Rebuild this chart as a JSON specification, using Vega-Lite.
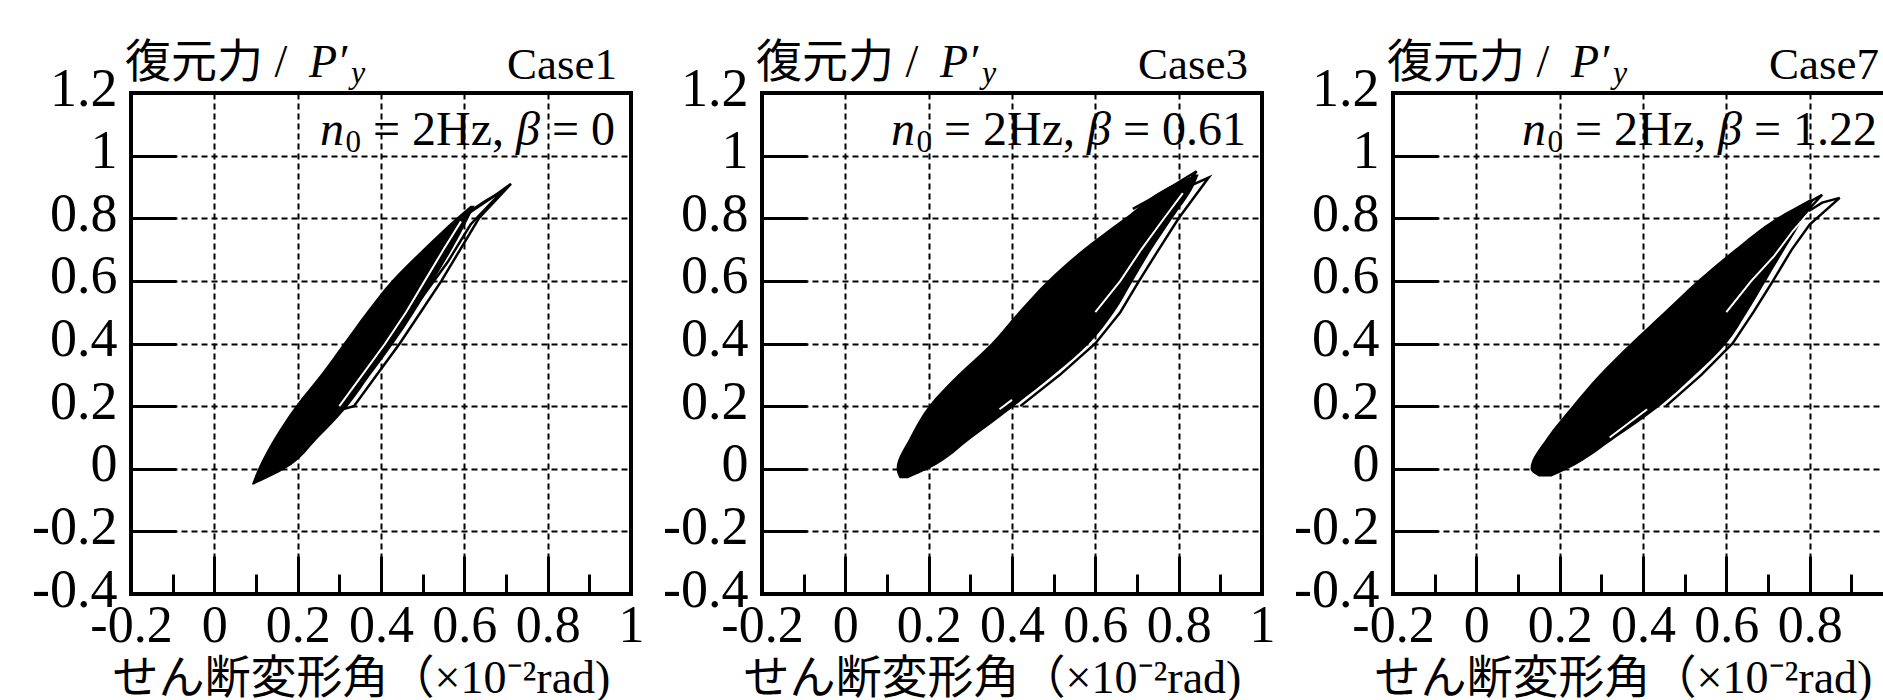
{
  "$schema": "https://vega.github.io/schema/vega-lite/v6.json",
  "background": "white",
  "autosize": {"type": "pad"},
  "padding": {"left": 29, "top": 38, "right": 0, "bottom": 0},
  "data": {"values": [
    {"kind": "label", "case": "Case1", "cond": "= 0"},
    {"kind": "label", "case": "Case3", "cond": "= 0.61"},
    {"kind": "label", "case": "Case7", "cond": "= 1.22"},

    {"kind": "fill", "case": "Case1", "y": -0.05, "xl": 0.09, "xr": 0.095},
    {"kind": "fill", "case": "Case1", "y": 0.0, "xl": 0.105, "xr": 0.17},
    {"kind": "fill", "case": "Case1", "y": 0.1, "xl": 0.145, "xr": 0.25},
    {"kind": "fill", "case": "Case1", "y": 0.2, "xl": 0.195, "xr": 0.32},
    {"kind": "fill", "case": "Case1", "y": 0.3, "xl": 0.255, "xr": 0.375},
    {"kind": "fill", "case": "Case1", "y": 0.4, "xl": 0.31, "xr": 0.43},
    {"kind": "fill", "case": "Case1", "y": 0.5, "xl": 0.365, "xr": 0.48},
    {"kind": "fill", "case": "Case1", "y": 0.6, "xl": 0.425, "xr": 0.525},
    {"kind": "fill", "case": "Case1", "y": 0.7, "xl": 0.5, "xr": 0.57},
    {"kind": "fill", "case": "Case1", "y": 0.8, "xl": 0.58, "xr": 0.61},
    {"kind": "fill", "case": "Case1", "y": 0.84, "xl": 0.615, "xr": 0.625},

    {"kind": "fill", "case": "Case3", "y": -0.03, "xl": 0.13, "xr": 0.15},
    {"kind": "fill", "case": "Case3", "y": 0.0, "xl": 0.123, "xr": 0.2},
    {"kind": "fill", "case": "Case3", "y": 0.1, "xl": 0.155, "xr": 0.305},
    {"kind": "fill", "case": "Case3", "y": 0.2, "xl": 0.2, "xr": 0.405},
    {"kind": "fill", "case": "Case3", "y": 0.3, "xl": 0.27, "xr": 0.5},
    {"kind": "fill", "case": "Case3", "y": 0.4, "xl": 0.35, "xr": 0.585},
    {"kind": "fill", "case": "Case3", "y": 0.5, "xl": 0.415, "xr": 0.645},
    {"kind": "fill", "case": "Case3", "y": 0.6, "xl": 0.485, "xr": 0.69},
    {"kind": "fill", "case": "Case3", "y": 0.7, "xl": 0.57, "xr": 0.735},
    {"kind": "fill", "case": "Case3", "y": 0.8, "xl": 0.67, "xr": 0.785},
    {"kind": "fill", "case": "Case3", "y": 0.9, "xl": 0.775, "xr": 0.835},
    {"kind": "fill", "case": "Case3", "y": 0.94, "xl": 0.84, "xr": 0.848},

    {"kind": "fill", "case": "Case7", "y": -0.025, "xl": 0.15, "xr": 0.18},
    {"kind": "fill", "case": "Case7", "y": 0.0, "xl": 0.13, "xr": 0.22},
    {"kind": "fill", "case": "Case7", "y": 0.1, "xl": 0.17, "xr": 0.335},
    {"kind": "fill", "case": "Case7", "y": 0.2, "xl": 0.23, "xr": 0.44},
    {"kind": "fill", "case": "Case7", "y": 0.3, "xl": 0.295, "xr": 0.525},
    {"kind": "fill", "case": "Case7", "y": 0.4, "xl": 0.37, "xr": 0.6},
    {"kind": "fill", "case": "Case7", "y": 0.5, "xl": 0.45, "xr": 0.65},
    {"kind": "fill", "case": "Case7", "y": 0.6, "xl": 0.53, "xr": 0.695},
    {"kind": "fill", "case": "Case7", "y": 0.7, "xl": 0.62, "xr": 0.74},
    {"kind": "fill", "case": "Case7", "y": 0.8, "xl": 0.72, "xr": 0.785},
    {"kind": "fill", "case": "Case7", "y": 0.86, "xl": 0.8, "xr": 0.81},

    {"kind": "loop", "case": "Case1", "path": "a", "i": 0, "x": 0.2, "y": 0.15},
    {"kind": "loop", "case": "Case1", "path": "a", "i": 1, "x": 0.335, "y": 0.2},
    {"kind": "loop", "case": "Case1", "path": "a", "i": 2, "x": 0.39, "y": 0.3},
    {"kind": "loop", "case": "Case1", "path": "a", "i": 3, "x": 0.445, "y": 0.4},
    {"kind": "loop", "case": "Case1", "path": "a", "i": 4, "x": 0.495, "y": 0.5},
    {"kind": "loop", "case": "Case1", "path": "a", "i": 5, "x": 0.545, "y": 0.6},
    {"kind": "loop", "case": "Case1", "path": "a", "i": 6, "x": 0.59, "y": 0.7},
    {"kind": "loop", "case": "Case1", "path": "a", "i": 7, "x": 0.635, "y": 0.8},
    {"kind": "loop", "case": "Case1", "path": "a", "i": 8, "x": 0.712, "y": 0.91},
    {"kind": "loop", "case": "Case1", "path": "a", "i": 9, "x": 0.665, "y": 0.865},
    {"kind": "loop", "case": "Case1", "path": "a", "i": 10, "x": 0.615, "y": 0.82},
    {"kind": "loop", "case": "Case1", "path": "a", "i": 11, "x": 0.56, "y": 0.76},
    {"kind": "loop", "case": "Case1", "path": "a", "i": 12, "x": 0.5, "y": 0.68},
    {"kind": "loop", "case": "Case1", "path": "b", "i": 0, "x": 0.35, "y": 0.35},
    {"kind": "loop", "case": "Case1", "path": "b", "i": 1, "x": 0.44, "y": 0.45},
    {"kind": "loop", "case": "Case1", "path": "b", "i": 2, "x": 0.5, "y": 0.55},
    {"kind": "loop", "case": "Case1", "path": "b", "i": 3, "x": 0.56, "y": 0.66},
    {"kind": "loop", "case": "Case1", "path": "b", "i": 4, "x": 0.615, "y": 0.78},
    {"kind": "loop", "case": "Case1", "path": "b", "i": 5, "x": 0.69, "y": 0.885},
    {"kind": "loop", "case": "Case1", "path": "b", "i": 6, "x": 0.65, "y": 0.855},
    {"kind": "loop", "case": "Case1", "path": "b", "i": 7, "x": 0.6, "y": 0.81},
    {"kind": "loop", "case": "Case1", "path": "b", "i": 8, "x": 0.55, "y": 0.74},
    {"kind": "white", "case": "Case1", "path": "w", "i": 0, "x": 0.3, "y": 0.2},
    {"kind": "white", "case": "Case1", "path": "w", "i": 1, "x": 0.355, "y": 0.3},
    {"kind": "white", "case": "Case1", "path": "w", "i": 2, "x": 0.41, "y": 0.4},
    {"kind": "white", "case": "Case1", "path": "w", "i": 3, "x": 0.46, "y": 0.5},
    {"kind": "white", "case": "Case1", "path": "w", "i": 4, "x": 0.505, "y": 0.6},
    {"kind": "white", "case": "Case1", "path": "w", "i": 5, "x": 0.55, "y": 0.7},
    {"kind": "white", "case": "Case1", "path": "w", "i": 6, "x": 0.592, "y": 0.79},

    {"kind": "loop", "case": "Case3", "path": "a", "i": 0, "x": 0.42, "y": 0.2},
    {"kind": "loop", "case": "Case3", "path": "a", "i": 1, "x": 0.515, "y": 0.3},
    {"kind": "loop", "case": "Case3", "path": "a", "i": 2, "x": 0.6, "y": 0.4},
    {"kind": "loop", "case": "Case3", "path": "a", "i": 3, "x": 0.66, "y": 0.5},
    {"kind": "loop", "case": "Case3", "path": "a", "i": 4, "x": 0.705, "y": 0.6},
    {"kind": "loop", "case": "Case3", "path": "a", "i": 5, "x": 0.752, "y": 0.7},
    {"kind": "loop", "case": "Case3", "path": "a", "i": 6, "x": 0.8, "y": 0.8},
    {"kind": "loop", "case": "Case3", "path": "a", "i": 7, "x": 0.872, "y": 0.93},
    {"kind": "loop", "case": "Case3", "path": "a", "i": 8, "x": 0.83, "y": 0.905},
    {"kind": "loop", "case": "Case3", "path": "a", "i": 9, "x": 0.77, "y": 0.86},
    {"kind": "loop", "case": "Case3", "path": "a", "i": 10, "x": 0.71, "y": 0.81},
    {"kind": "loop", "case": "Case3", "path": "a", "i": 11, "x": 0.66, "y": 0.76},
    {"kind": "loop", "case": "Case3", "path": "b", "i": 0, "x": 0.6, "y": 0.6},
    {"kind": "loop", "case": "Case3", "path": "b", "i": 1, "x": 0.66, "y": 0.68},
    {"kind": "loop", "case": "Case3", "path": "b", "i": 2, "x": 0.72, "y": 0.76},
    {"kind": "loop", "case": "Case3", "path": "b", "i": 3, "x": 0.78, "y": 0.84},
    {"kind": "loop", "case": "Case3", "path": "b", "i": 4, "x": 0.843, "y": 0.95},
    {"kind": "loop", "case": "Case3", "path": "b", "i": 5, "x": 0.8, "y": 0.915},
    {"kind": "loop", "case": "Case3", "path": "b", "i": 6, "x": 0.745, "y": 0.87},
    {"kind": "loop", "case": "Case3", "path": "b", "i": 7, "x": 0.69, "y": 0.83},
    {"kind": "white", "case": "Case3", "path": "w", "i": 0, "x": 0.6, "y": 0.5},
    {"kind": "white", "case": "Case3", "path": "w", "i": 1, "x": 0.66, "y": 0.6},
    {"kind": "white", "case": "Case3", "path": "w", "i": 2, "x": 0.71, "y": 0.7},
    {"kind": "white", "case": "Case3", "path": "w", "i": 3, "x": 0.765, "y": 0.8},
    {"kind": "white", "case": "Case3", "path": "w", "i": 4, "x": 0.81, "y": 0.88},
    {"kind": "white", "case": "Case3", "path": "v", "i": 0, "x": 0.37, "y": 0.19},
    {"kind": "white", "case": "Case3", "path": "v", "i": 1, "x": 0.4, "y": 0.22},

    {"kind": "loop", "case": "Case7", "path": "a", "i": 0, "x": 0.455, "y": 0.2},
    {"kind": "loop", "case": "Case7", "path": "a", "i": 1, "x": 0.54, "y": 0.3},
    {"kind": "loop", "case": "Case7", "path": "a", "i": 2, "x": 0.615, "y": 0.4},
    {"kind": "loop", "case": "Case7", "path": "a", "i": 3, "x": 0.665, "y": 0.5},
    {"kind": "loop", "case": "Case7", "path": "a", "i": 4, "x": 0.712, "y": 0.6},
    {"kind": "loop", "case": "Case7", "path": "a", "i": 5, "x": 0.757, "y": 0.7},
    {"kind": "loop", "case": "Case7", "path": "a", "i": 6, "x": 0.8, "y": 0.78},
    {"kind": "loop", "case": "Case7", "path": "a", "i": 7, "x": 0.872, "y": 0.865},
    {"kind": "loop", "case": "Case7", "path": "a", "i": 8, "x": 0.83, "y": 0.85},
    {"kind": "loop", "case": "Case7", "path": "a", "i": 9, "x": 0.77, "y": 0.8},
    {"kind": "loop", "case": "Case7", "path": "a", "i": 10, "x": 0.71, "y": 0.74},
    {"kind": "loop", "case": "Case7", "path": "b", "i": 0, "x": 0.63, "y": 0.6},
    {"kind": "loop", "case": "Case7", "path": "b", "i": 1, "x": 0.69, "y": 0.68},
    {"kind": "loop", "case": "Case7", "path": "b", "i": 2, "x": 0.75, "y": 0.76},
    {"kind": "loop", "case": "Case7", "path": "b", "i": 3, "x": 0.83, "y": 0.875},
    {"kind": "loop", "case": "Case7", "path": "b", "i": 4, "x": 0.79, "y": 0.845},
    {"kind": "loop", "case": "Case7", "path": "b", "i": 5, "x": 0.73, "y": 0.79},
    {"kind": "loop", "case": "Case7", "path": "b", "i": 6, "x": 0.68, "y": 0.73},
    {"kind": "white", "case": "Case7", "path": "w", "i": 0, "x": 0.6, "y": 0.5},
    {"kind": "white", "case": "Case7", "path": "w", "i": 1, "x": 0.66, "y": 0.6},
    {"kind": "white", "case": "Case7", "path": "w", "i": 2, "x": 0.715, "y": 0.68},
    {"kind": "white", "case": "Case7", "path": "w", "i": 3, "x": 0.76, "y": 0.76},
    {"kind": "white", "case": "Case7", "path": "w", "i": 4, "x": 0.8, "y": 0.82},
    {"kind": "white", "case": "Case7", "path": "v", "i": 0, "x": 0.32, "y": 0.1},
    {"kind": "white", "case": "Case7", "path": "v", "i": 1, "x": 0.37, "y": 0.15},
    {"kind": "white", "case": "Case7", "path": "v", "i": 2, "x": 0.41, "y": 0.19}
  ]},
  "facet": {"column": {"field": "case", "type": "nominal", "title": null, "header": {"labels": false, "title": null}}},
  "spacing": 131,
  "bounds": "flush",
  "resolve": {"axis": {"x": "independent", "y": "independent"}},
  "spec": {
    "width": 500,
    "height": 501,
    "layer": [
      {
        "transform": [{"filter": "datum.kind === 'fill'"}],
        "mark": {"type": "area", "orient": "horizontal", "color": "black", "interpolate": "monotone"},
        "encoding": {
          "y": {
            "field": "y", "type": "quantitative",
            "scale": {"domain": [-0.4, 1.2], "nice": false, "zero": false},
            "axis": {
              "title": null,
              "values": [-0.4, -0.3, -0.2, -0.1, 0, 0.1, 0.2, 0.3, 0.4, 0.5, 0.6, 0.7, 0.8, 0.9, 1, 1.1, 1.2],
              "labelExpr": "round(datum.value*10) % 2 === 0 ? (datum.value < 0 ? '-' + format(-datum.value, '~g') : format(datum.value, '~g')) : ''",
              "tickSize": {"condition": {"test": "round(datum.value*10) % 2 === 0", "value": -45}, "value": -22},
              "gridOpacity": {"condition": {"test": "round(datum.value*10) % 2 === 0", "value": 1}, "value": 0},
              "labelPadding": 59,
              "labelOffset": -4,
              "labelFontSize": 54
            }
          },
          "x": {
            "field": "xl", "type": "quantitative",
            "scale": {"domain": [-0.2, 1], "nice": false, "zero": false},
            "axis": {
              "title": "せん断変形角（×10⁻²rad)",
              "titleX": 230,
              "titleY": 98,
              "titleFontSize": 46,
              "titleBaseline": "alphabetic",
              "values": [-0.2, -0.1, 0, 0.1, 0.2, 0.3, 0.4, 0.5, 0.6, 0.7, 0.8, 0.9, 1],
              "labelExpr": "round(datum.value*10) % 2 === 0 ? (datum.value < 0 ? '-' + format(-datum.value, '~g') : format(datum.value, '~g')) : ''",
              "tickSize": {"condition": {"test": "round(datum.value*10) % 2 === 0", "value": -38}, "value": -20},
              "gridOpacity": {"condition": {"test": "round(datum.value*10) % 2 === 0", "value": 1}, "value": 0},
              "labelPadding": 44,
              "labelFontSize": 52
            }
          },
          "x2": {"field": "xr"}
        }
      },
      {
        "transform": [{"filter": "datum.kind === 'loop'"}],
        "mark": {"type": "line", "color": "black", "strokeWidth": 2.5},
        "encoding": {
          "x": {"field": "x", "type": "quantitative"},
          "y": {"field": "y", "type": "quantitative", "axis": {"title": null}},
          "detail": {"field": "path", "type": "nominal"},
          "order": {"field": "i", "type": "quantitative"}
        }
      },
      {
        "transform": [{"filter": "datum.kind === 'white'"}],
        "mark": {"type": "line", "color": "white", "strokeWidth": 2},
        "encoding": {
          "x": {"field": "x", "type": "quantitative"},
          "y": {"field": "y", "type": "quantitative", "axis": {"title": null}},
          "detail": {"field": "path", "type": "nominal"},
          "order": {"field": "i", "type": "quantitative"}
        }
      },
      {
        "transform": [{"filter": "datum.kind === 'label'"}],
        "mark": {"type": "text", "align": "right", "baseline": "alphabetic", "dx": -14, "dy": -14, "fontSize": 45, "font": "Liberation Serif", "color": "black"},
        "encoding": {
          "x": {"datum": 1},
          "y": {"datum": 1.2},
          "text": {"field": "case"}
        }
      },
      {
        "transform": [{"filter": "datum.kind === 'label'"}],
        "mark": {"type": "text", "text": "復元力 /", "align": "left", "baseline": "alphabetic", "dx": -6, "dy": -16, "fontSize": 46, "font": "Liberation Serif, Noto Sans CJK JP", "color": "black"},
        "encoding": {"x": {"datum": -0.2}, "y": {"datum": 1.2}}
      },
      {
        "transform": [{"filter": "datum.kind === 'label'"}],
        "mark": {"type": "text", "text": "P′", "align": "left", "baseline": "alphabetic", "dx": 178, "dy": -16, "fontSize": 46, "fontStyle": "italic", "font": "Liberation Serif", "color": "black"},
        "encoding": {"x": {"datum": -0.2}, "y": {"datum": 1.2}}
      },
      {
        "transform": [{"filter": "datum.kind === 'label'"}],
        "mark": {"type": "text", "text": "y", "align": "left", "baseline": "alphabetic", "dx": 220, "dy": -10, "fontSize": 32, "fontStyle": "italic", "font": "Liberation Serif", "color": "black"},
        "encoding": {"x": {"datum": -0.2}, "y": {"datum": 1.2}}
      },
      {
        "transform": [{"filter": "datum.kind === 'label'"}],
        "mark": {"type": "text", "align": "right", "baseline": "alphabetic", "dx": -16, "dy": 52, "fontSize": 48, "font": "Liberation Serif", "color": "black"},
        "encoding": {"x": {"datum": 1}, "y": {"datum": 1.2}, "text": {"field": "cond"}}
      },
      {
        "transform": [{"filter": "datum.kind === 'label'"}],
        "mark": {"type": "text", "text": "β", "align": "right", "baseline": "alphabetic", "dx": {"expr": "datum.case === 'Case1' ? -91 : -151"}, "dy": 52, "fontSize": 48, "fontStyle": "italic", "font": "Liberation Serif", "color": "black"},
        "encoding": {"x": {"datum": 1}, "y": {"datum": 1.2}}
      },
      {
        "transform": [{"filter": "datum.kind === 'label'"}],
        "mark": {"type": "text", "text": "= 2Hz,", "align": "right", "baseline": "alphabetic", "dx": {"expr": "datum.case === 'Case1' ? -127 : -187"}, "dy": 52, "fontSize": 48, "font": "Liberation Serif", "color": "black"},
        "encoding": {"x": {"datum": 1}, "y": {"datum": 1.2}}
      },
      {
        "transform": [{"filter": "datum.kind === 'label'"}],
        "mark": {"type": "text", "text": "0", "align": "right", "baseline": "alphabetic", "dx": {"expr": "datum.case === 'Case1' ? -270 : -330"}, "dy": 59, "fontSize": 31, "font": "Liberation Serif", "color": "black"},
        "encoding": {"x": {"datum": 1}, "y": {"datum": 1.2}}
      },
      {
        "transform": [{"filter": "datum.kind === 'label'"}],
        "mark": {"type": "text", "text": "n", "align": "right", "baseline": "alphabetic", "dx": {"expr": "datum.case === 'Case1' ? -287 : -347"}, "dy": 52, "fontSize": 48, "fontStyle": "italic", "font": "Liberation Serif", "color": "black"},
        "encoding": {"x": {"datum": 1}, "y": {"datum": 1.2}}
      }
    ]
  },
  "config": {
    "view": {"stroke": "black", "strokeWidth": 4},
    "axis": {
      "domain": false,
      "grid": true,
      "gridColor": "black",
      "gridDash": [6, 4],
      "gridWidth": 2,
      "tickColor": "black",
      "tickWidth": 3,
      "labelFont": "Liberation Serif",
      "labelColor": "black",
      "labelOverlap": false,
      "labelFlush": false,
      "labelBound": false,
      "titleFont": "Liberation Serif, Noto Sans CJK JP",
      "titleFontWeight": "normal",
      "titleColor": "black"
    }
  }
}
